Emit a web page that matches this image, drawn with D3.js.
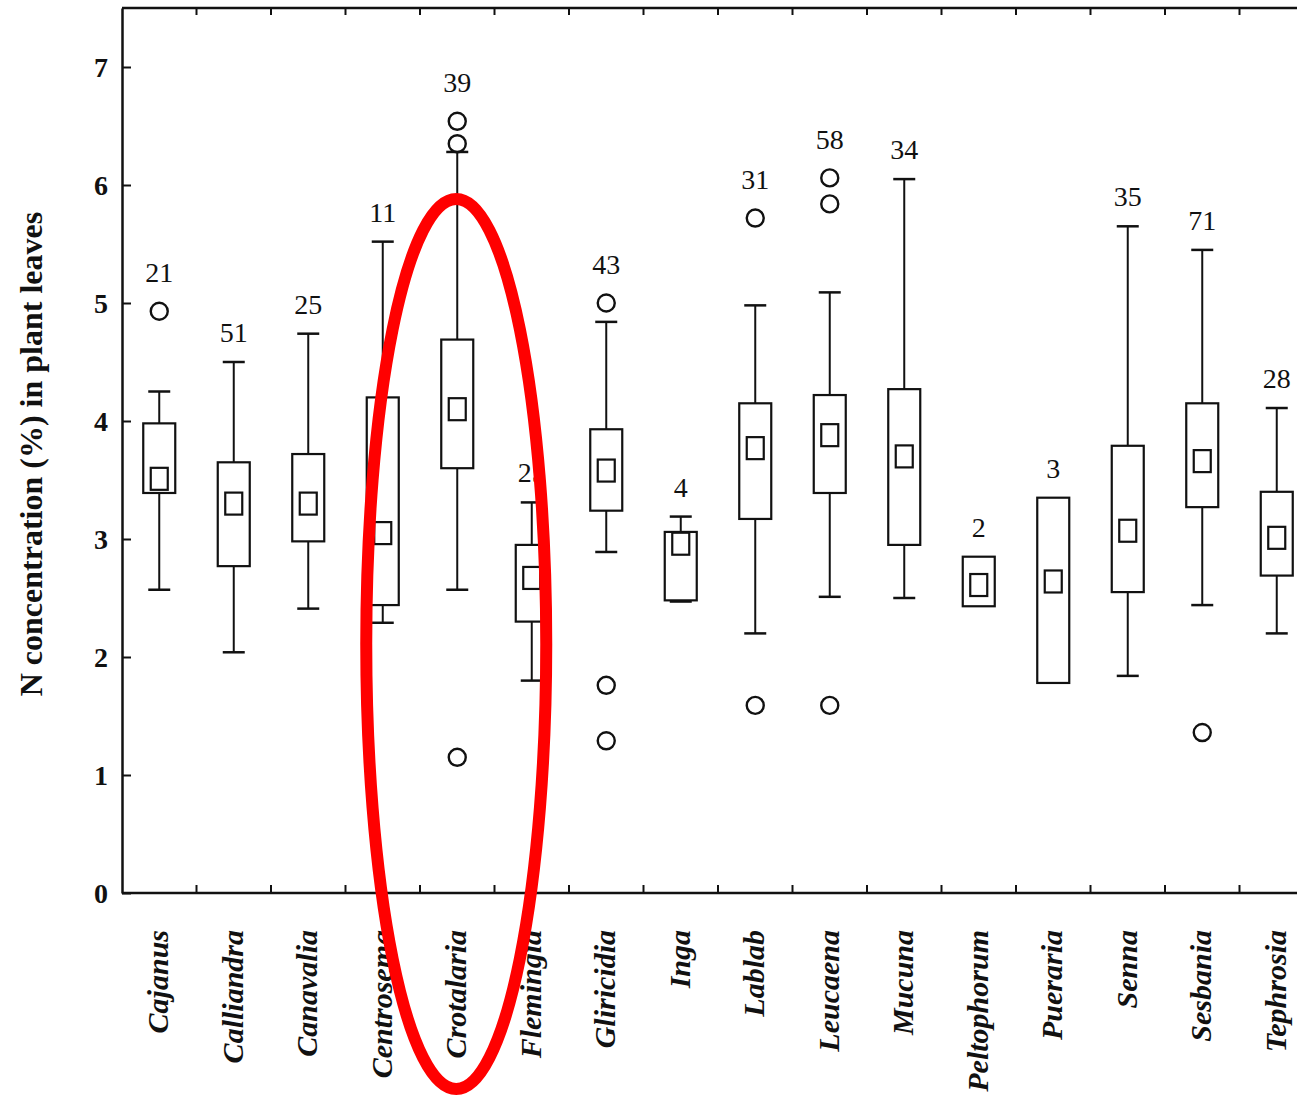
<!DOCTYPE html>
<html>
<head>
<meta charset="utf-8">
<script src="https://cdn.jsdelivr.net/npm/d3@7"></script>
<style>
  body { margin: 0; background: #fff; }
  text { font-family: "Liberation Serif", "Times New Roman", serif; fill: #111; }
</style>
</head>
<body>
<div id="chart"></div>
<script>
// genus names and sample counts
var genera = ['Cajanus', 'Calliandra', 'Canavalia', 'Centrosema', 'Crotalaria', 'Flemingia',
    'Gliricidia', 'Inga', 'Lablab', 'Leucaena', 'Mucuna', 'Peltophorum', 'Pueraria',
    'Senna', 'Sesbania', 'Tephrosia'];
var counts = [21, 51, 25, 11, 39, 25, 43, 4, 31, 58, 34, 2, 3, 35, 71, 28];

// box plot stats, N % in leaves (null = no whisker drawn)
var whiskerLow  = [2.57, 2.04, 2.41, 2.29, 2.57, 1.80, 2.89, 2.47, 2.20, 2.51, 2.50, null, null, 1.84, 2.44, 2.20];
var boxLow      = [3.39, 2.77, 2.98, 2.44, 3.60, 2.30, 3.24, 2.48, 3.17, 3.39, 2.95, 2.43, 1.78, 2.55, 3.27, 2.69];
var means       = [3.51, 3.30, 3.30, 3.05, 4.10, 2.67, 3.58, 2.96, 3.77, 3.88, 3.70, 2.61, 2.64, 3.07, 3.66, 3.01];
var boxHigh     = [3.98, 3.65, 3.72, 4.20, 4.69, 2.95, 3.93, 3.06, 4.15, 4.22, 4.27, 2.85, 3.35, 3.79, 4.15, 3.40];
var whiskerHigh = [4.25, 4.50, 4.74, 5.52, 6.28, 3.31, 4.84, 3.19, 4.98, 5.09, 6.05, null, null, 5.65, 5.45, 4.11];
var outliers = [[4.93], [], [], [], [6.54, 6.35, 1.15], [], [5.00, 1.76, 1.29], [],
    [5.72, 1.59], [6.06, 5.84, 1.59], [], [], [], [], [1.36], []];

var yTicks = [0, 1, 2, 3, 4, 5, 6, 7];
var highlighted = 'Crotalaria';

var width = 1297, height = 1096;
var margin = { top: 8, left: 122, bottom: 203 };

var svg = d3.select('#chart')
    .append('svg')
    .attr('width', width)
    .attr('height', height);

var x = d3.scaleBand()
    .domain(genera)
    .range([margin.left, margin.left + 74.5 * genera.length])
    .padding(0);

var y = d3.scaleLinear()
    .domain([0, 7.5])
    .range([height - margin.bottom, margin.top]);

var plotBottom = height - margin.bottom;

// frame lines
svg.append('line')
    .attr('x1', margin.left).attr('x2', width)
    .attr('y1', margin.top).attr('y2', margin.top)
    .attr('stroke', '#111').attr('stroke-width', 2.5);

// category boundary ticks (top and bottom, pointing in)
var bounds = genera.slice(1).map(function(g) { return x(g); });
svg.selectAll('.tick-top')
    .data(bounds)
    .enter()
    .append('line')
    .attr('x1', function(d) { return d; }).attr('x2', function(d) { return d; })
    .attr('y1', margin.top).attr('y2', margin.top + 7)
    .attr('stroke', '#111').attr('stroke-width', 2);

var xAxis = svg.append('g')
    .attr('transform', 'translate(0,' + plotBottom + ')')
    .call(d3.axisBottom(x).tickValues([]).tickSizeOuter(0));
xAxis.select('.domain').attr('stroke', '#111').attr('stroke-width', 2.5)
    .attr('d', 'M' + margin.left + ',0H' + width);

svg.selectAll('.tick-bottom')
    .data(bounds)
    .enter()
    .append('line')
    .attr('x1', function(d) { return d; }).attr('x2', function(d) { return d; })
    .attr('y1', plotBottom).attr('y2', plotBottom - 8)
    .attr('stroke', '#111').attr('stroke-width', 2);

// genus labels
svg.selectAll('.genus')
    .data(genera)
    .enter()
    .append('text')
    .attr('class', 'genus')
    .attr('transform', function(d) {
        return 'translate(' + (x(d) + x.bandwidth() / 2 + 9) + ',' + (plotBottom + 37) + ') rotate(-90)';
    })
    .attr('text-anchor', 'end')
    .style('font-size', '30px')
    .style('font-weight', 'bold')
    .style('font-style', 'italic')
    .text(function(d) { return d; });

// y axis
var yAxis = svg.append('g')
    .attr('transform', 'translate(' + margin.left + ',0)')
    .call(d3.axisRight(y).tickValues(yTicks).tickSize(9).tickSizeOuter(0).tickFormat(d3.format('d')));
yAxis.select('.domain').attr('stroke', '#111').attr('stroke-width', 2.5);
yAxis.selectAll('.tick line').attr('stroke', '#111').attr('stroke-width', 2);
yAxis.selectAll('.tick text')
    .attr('x', -14)
    .attr('dy', '0.35em')
    .attr('text-anchor', 'end')
    .style('font-size', '28px')
    .style('font-weight', 'bold')
    .style('font-family', '"Liberation Serif", "Times New Roman", serif');

svg.append('text')
    .attr('transform', 'translate(42,' + y(3.72) + ') rotate(-90)')
    .attr('text-anchor', 'middle')
    .style('font-size', '32px')
    .style('font-weight', 'bold')
    .text('N concentration (%) in plant leaves');

// boxes
var boxW = 32, capW = 22, meanW = 17, meanH = 22;

var groups = svg.selectAll('.box')
    .data(genera)
    .enter()
    .append('g')
    .attr('class', 'box')
    .attr('transform', function(d) { return 'translate(' + (x(d) + x.bandwidth() / 2) + ',0)'; });

groups.each(function(d, i) {
    var g = d3.select(this);
    if (whiskerHigh[i] != null) {
        g.append('line').attr('x1', 0).attr('x2', 0)
            .attr('y1', y(whiskerHigh[i])).attr('y2', y(boxHigh[i]))
            .attr('stroke', '#111').attr('stroke-width', 2);
        g.append('line').attr('x1', -capW / 2).attr('x2', capW / 2)
            .attr('y1', y(whiskerHigh[i])).attr('y2', y(whiskerHigh[i]))
            .attr('stroke', '#111').attr('stroke-width', 2.5);
    }
    if (whiskerLow[i] != null) {
        g.append('line').attr('x1', 0).attr('x2', 0)
            .attr('y1', y(boxLow[i])).attr('y2', y(whiskerLow[i]))
            .attr('stroke', '#111').attr('stroke-width', 2);
        g.append('line').attr('x1', -capW / 2).attr('x2', capW / 2)
            .attr('y1', y(whiskerLow[i])).attr('y2', y(whiskerLow[i]))
            .attr('stroke', '#111').attr('stroke-width', 2.5);
    }
    g.append('rect')
        .attr('x', -boxW / 2).attr('width', boxW)
        .attr('y', y(boxHigh[i])).attr('height', y(boxLow[i]) - y(boxHigh[i]))
        .attr('fill', 'none').attr('stroke', '#111').attr('stroke-width', 2.2);
    g.append('rect')
        .attr('x', -meanW / 2).attr('width', meanW)
        .attr('y', y(means[i]) - meanH / 2).attr('height', meanH)
        .attr('fill', 'none').attr('stroke', '#111').attr('stroke-width', 2.2);
    g.selectAll('circle')
        .data(outliers[i])
        .enter()
        .append('circle')
        .attr('cx', 0).attr('cy', function(v) { return y(v); })
        .attr('r', 8.5)
        .attr('fill', 'none').attr('stroke', '#111').attr('stroke-width', 2.4);

    // count label above the highest mark
    var top = d3.max([boxHigh[i], whiskerHigh[i] || 0].concat(outliers[i]));
    var lift = d3.max(outliers[i]) === top ? 9 : 0;
    g.append('text')
        .attr('x', 0)
        .attr('y', y(top) - lift - 20)
        .attr('text-anchor', 'middle')
        .style('font-size', '28px')
        .text(counts[i]);
});

// red highlight ellipse
svg.append('ellipse')
    .attr('cx', x(highlighted) + x.bandwidth() / 2 - 1)
    .attr('cy', 644)
    .attr('rx', 90)
    .attr('ry', 445)
    .attr('fill', 'none')
    .attr('stroke', '#ff0000')
    .attr('stroke-width', 12);
</script>
</body>
</html>
